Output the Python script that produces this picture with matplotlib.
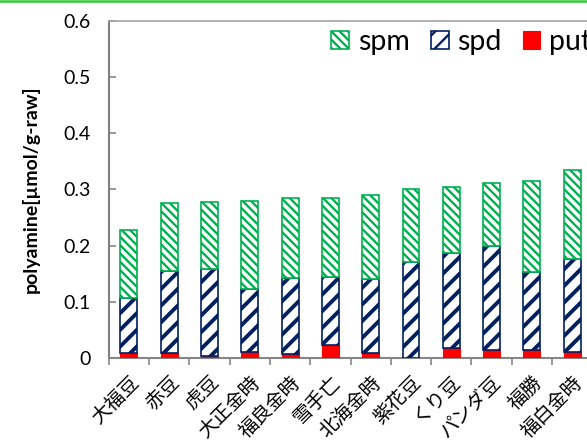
import matplotlib.pyplot as plt
import matplotlib.lines as mlines
import numpy as np

plt.rcParams['font.family'] = ['Lato', 'Noto Sans CJK JP', 'DejaVu Sans']

varieties = ["大福豆", "赤豆", "虎豆", "大正金時", "福良金時", "雪手亡",
             "北海金時", "紫花豆", "くり豆", "パンダ豆", "福勝", "福白金時"]
put = [0.009, 0.009, 0.004, 0.012, 0.007, 0.023, 0.010, 0.0, 0.019, 0.015, 0.015, 0.011]
spd = [0.099, 0.146, 0.154, 0.112, 0.135, 0.121, 0.131, 0.172, 0.169, 0.185, 0.139, 0.165]
spm = [0.120, 0.121, 0.119, 0.155, 0.143, 0.141, 0.150, 0.128, 0.117, 0.111, 0.161, 0.158]

GREEN = "#00B050"
NAVY = "#002060"
RED = "#FF0000"

fig = plt.figure(figsize=(5.87, 4.41), dpi=100)
ax = fig.add_axes([0.1852, 0.1875, 0.8927, 0.7656])

x = np.arange(len(varieties))
w = 0.42
put_a = np.array(put)
spd_a = np.array(spd)
spm_a = np.array(spm)

b_put = ax.bar(x, put_a, w, color=RED, edgecolor=RED, linewidth=0.8, zorder=3)
plt.rcParams['hatch.linewidth'] = 2.8
b_spd = ax.bar(x, spd_a, w, bottom=put_a, facecolor="white", edgecolor=NAVY,
               hatch="//", linewidth=1.2, zorder=3)
plt.rcParams['hatch.linewidth'] = 1.7
b_spm = ax.bar(x, spm_a, w, bottom=put_a + spd_a, facecolor="white", edgecolor=GREEN,
               hatch="\\\\\\\\", linewidth=1.2, zorder=3)

ax.set_xlim(-0.5, 12.5)
ax.set_ylim(0, 0.6)
ax.set_yticks(np.arange(0, 0.61, 0.1))
ax.set_yticklabels(["0", "0.1", "0.2", "0.3", "0.4", "0.5", "0.6"], fontsize=14)
ax.set_xticks(x)
ax.set_xticklabels(varieties, rotation=45, ha="right", va="top",
                   rotation_mode="anchor", fontsize=14)
ax.set_xticks(np.arange(-0.5, 12.6, 1), minor=True)
ax.tick_params(axis="x", which="major", length=0, pad=10)
ax.tick_params(axis="x", which="minor", direction="out", length=5, width=1.2, color="#868686")
ax.tick_params(axis="y", direction="in", length=5, width=1.2, color="#868686", pad=13)

ax.set_ylabel("polyamine[µmol/g-raw]", fontsize=14, fontweight="bold", labelpad=17)

ax.spines['left'].set_color("#808080")
ax.spines['left'].set_linewidth(1.5)
ax.spines['bottom'].set_color("#868686")
ax.spines['bottom'].set_linewidth(1.5)
ax.spines['top'].set_color("#A6A6A6")
ax.spines['top'].set_linewidth(1.2)
ax.spines['right'].set_visible(False)

leg = fig.legend([b_spm, b_spd, b_put], ["spm", "spd", "put"], loc="upper left",
                 bbox_to_anchor=(0.555, 0.947), ncol=3, frameon=False, fontsize=20.5,
                 handlelength=0.62, handleheight=0.62, handletextpad=0.3,
                 columnspacing=0.75, borderaxespad=0, borderpad=0.2)

fig.add_artist(mlines.Line2D([0, 1], [0.998, 0.998], color="#2ECC2E", linewidth=1.8,
                             transform=fig.transFigure))

fig.savefig("out.png", dpi=100)
